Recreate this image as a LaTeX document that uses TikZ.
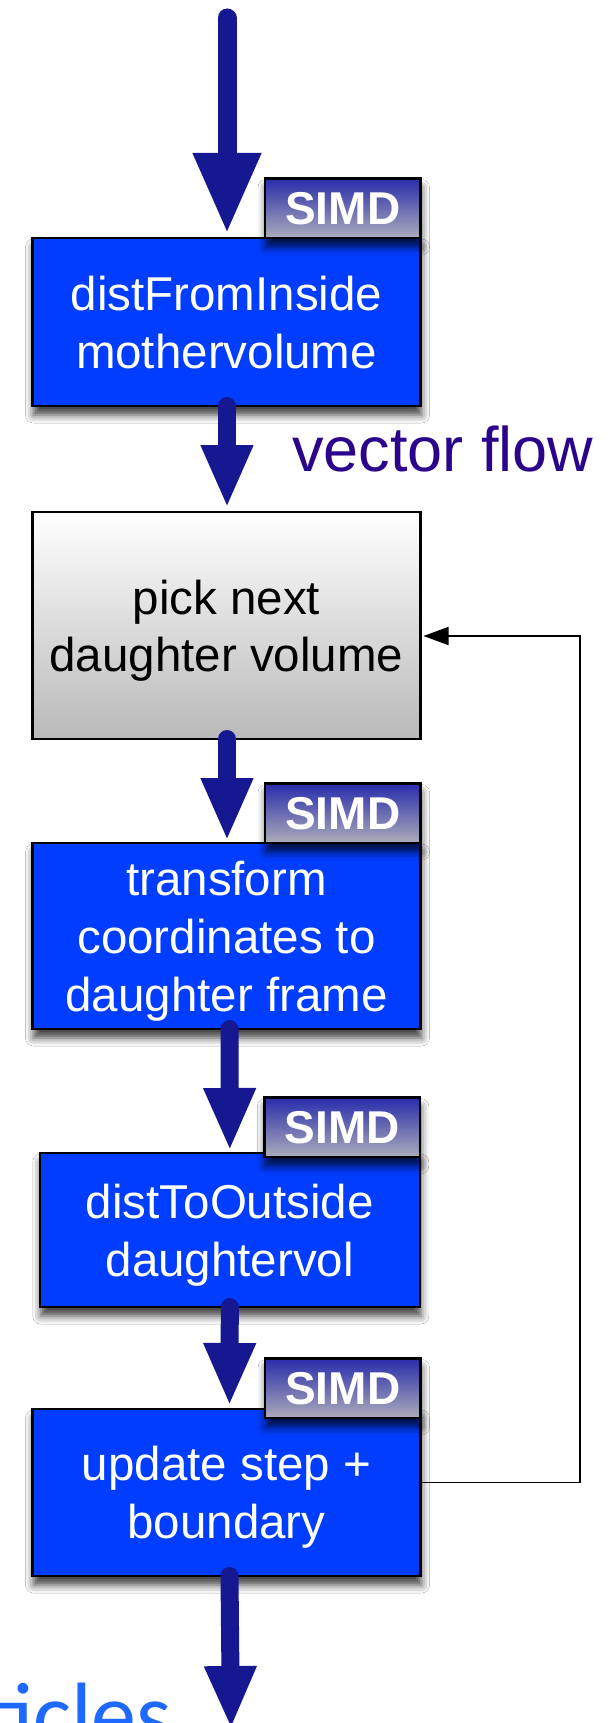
\documentclass[tikz,border=0pt]{standalone}
\usepackage{fontspec}
\setmainfont{Liberation Sans}
\newfontfamily\partfont{Carlito}
\usetikzlibrary{arrows.meta,shadows.blur}
\definecolor{boxblue}{RGB}{0,61,255}
\definecolor{flowblue}{RGB}{22,24,145}
\definecolor{tabtop}{RGB}{40,44,170}
\definecolor{tabbot}{RGB}{172,172,186}
\definecolor{vfcol}{RGB}{42,5,140}
\definecolor{partcol}{RGB}{30,105,255}
\newcommand{\nodepth}[1]{\raisebox{0pt}[\height][0pt]{#1}}
\begin{document}
\begin{tikzpicture}[x=1pt,y=-1pt,
  boxshadow/.style={blur shadow={shadow xshift=1pt,shadow yshift=-9pt,shadow blur radius=8pt,shadow opacity=75}},
  bluebox/.style={draw=black,line width=2.5pt,fill=boxblue,text=white,inner sep=0pt,outer sep=0pt,align=center,font=\fontsize{47.5}{58}\selectfont,boxshadow},
  graybox/.style={draw=black,line width=2.5pt,top color=white,bottom color=gray!55,text=black,inner sep=0pt,outer sep=0pt,align=center,font=\fontsize{47.5}{57}\selectfont},
  simdtab/.style={draw=black,line width=2.5pt,top color=tabtop,bottom color=tabbot,text=white,inner sep=0pt,outer sep=0pt,minimum width=155.5pt,minimum height=59.5pt,font=\bfseries\fontsize{46}{55}\selectfont,boxshadow,anchor=south east},
  flow/.style={draw=flowblue,line width=18pt,line cap=round,-{Triangle[width=48pt,length=63pt]}},
  flowbig/.style={draw=flowblue,line width=19pt,line cap=round,-{Triangle[width=63pt,length=81pt]}},
  fb/.style={draw=black,line width=1.5pt,-{Triangle[width=18pt,length=25pt]}},
  label/.style={inner sep=0pt,outer sep=0pt}
]
\useasboundingbox (0,0) rectangle (611,1723);
\fill[white] (0,0) rectangle (611,1723);
\clip (0,0) rectangle (611,1723);

% boxes
\node[bluebox,minimum width=388pt,minimum height=168pt] (b1) at (226.5,322) {distFromInside\\\nodepth{mothervolume}};
\node[graybox,minimum width=388pt,minimum height=227pt] (b2) at (226.5,625.5) {pick next\\\nodepth{daughter volume}};
\node[bluebox,minimum width=388pt,minimum height=186pt] (b3) at (226.5,936) {transform\\coordinates to\\\nodepth{daughter frame}};
\node[bluebox,minimum width=380pt,minimum height=154pt] (b4) at (229.8,1230) {distToOutside\\\nodepth{daughtervol}};
\node[bluebox,minimum width=388pt,minimum height=167pt] (b5) at (226.5,1492.5) {update step +\\\nodepth{boundary}};

% SIMD tabs
\node[simdtab] (t1) at (b1.north east) {SIMD};
\node[simdtab] (t3) at (b3.north east) {SIMD};
\node[simdtab,yshift=-4pt] (t4) at (b4.north east) {SIMD};
\node[simdtab,yshift=-9pt] (t5) at (b5.north east) {SIMD};

% texts
\node[label,anchor=base west,text=vfcol,font=\fontsize{63}{70}\selectfont] (vf) at (292,471) {vector flow};
\node[label,anchor=base east,text=partcol,font=\partfont\fontsize{90}{100}\selectfont] (pt) at (172,1745) {particles};

% vector flow arrows
\coordinate (src) at (227,18);
\coordinate (sink) at (231,1729);
\draw[flowbig] (src) -- ([xshift=0.5pt,yshift=4pt]b1.north);
\draw[flow] ([xshift=0.5pt]b1.south) -- ([xshift=0.5pt,yshift=4pt]b2.north);
\draw[flow] ([xshift=0.5pt]b2.south) -- ([xshift=0.5pt,yshift=2pt]b3.north);
\draw[flow] ([xshift=3pt]b3.south) -- ([yshift=2pt]b4.north);
\draw[flow] (b4.south) -- ([xshift=3pt,yshift=3pt]b5.north);
\draw[flow] ([xshift=3pt]b5.south) -- (sink);

% feedback loop
\coordinate (rt) at (580,0);
\coordinate (fbout) at ([yshift=10pt]b5.east);
\coordinate (fbin) at ([xshift=3pt,yshift=-10.5pt]b2.east);
\draw[fb] (fbout) -- (fbout -| rt) -- (fbin -| rt) -- (fbin);
\end{tikzpicture}
\end{document}
